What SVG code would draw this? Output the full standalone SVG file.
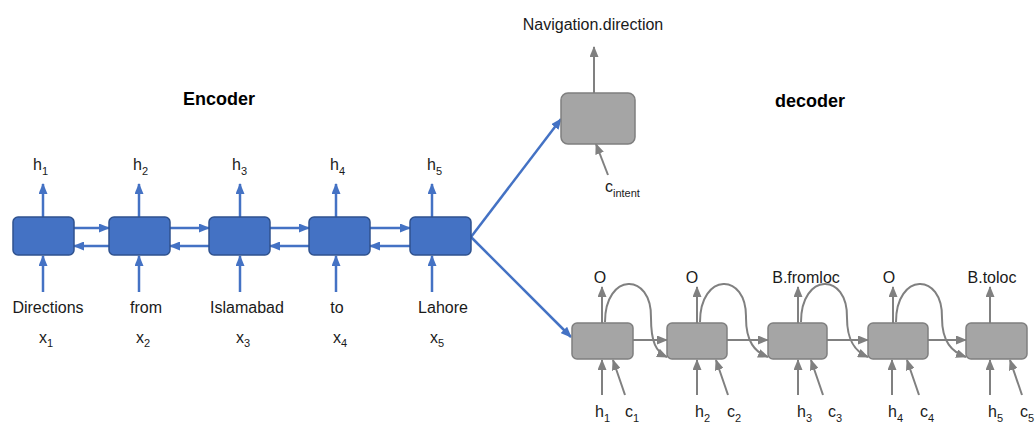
<svg xmlns="http://www.w3.org/2000/svg" width="1035" height="423" viewBox="0 0 1035 423">
<style>
text{font-family:"Liberation Sans",Arial,sans-serif;font-size:16px;fill:#1a1a1a}
.t{font-weight:bold;font-size:18px;fill:#000}
.s{font-size:11px}
.enc{fill:#4472C4;stroke:#2F528F;stroke-width:1.5}
.dec{fill:#A5A5A5;stroke:#7F7F7F;stroke-width:1.5}
.b{stroke:#4472C4;stroke-width:2.5;fill:none;marker-end:url(#ab)}
.g{stroke:#808080;stroke-width:2;fill:none;marker-end:url(#ag)}
</style>
<defs>
<marker id="ab" markerUnits="userSpaceOnUse" markerWidth="11" markerHeight="9" refX="10" refY="4.5" orient="auto"><path d="M0,0 L11,4.5 L0,9 z" fill="#4472C4"/></marker>
<marker id="ag" markerUnits="userSpaceOnUse" markerWidth="11" markerHeight="9" refX="10" refY="4.5" orient="auto"><path d="M0,0 L11,4.5 L0,9 z" fill="#808080"/></marker>
</defs>
<rect width="1035" height="423" fill="#fff"/>
<text class="t" x="183" y="105">Encoder</text>
<text class="t" x="775" y="107">decoder</text>
<g id="connectors">
<!-- encoder up -->
<path class="b" d="M43,217 V184"/><path class="b" d="M139,217 V184"/><path class="b" d="M240,217 V184"/><path class="b" d="M336,217 V184"/><path class="b" d="M432,217 V184"/>
<!-- encoder in -->
<path class="b" d="M43,292 V256"/><path class="b" d="M139,292 V256"/><path class="b" d="M240,292 V256"/><path class="b" d="M336,292 V256"/><path class="b" d="M432,292 V256"/>
<!-- forward -->
<path class="b" d="M74,228 H109"/><path class="b" d="M170,228 H209"/><path class="b" d="M270,228 H309"/><path class="b" d="M370,228 H410"/>
<!-- backward -->
<path class="b" d="M109,246 H74"/><path class="b" d="M209,246 H170"/><path class="b" d="M309,246 H270"/><path class="b" d="M410,246 H370"/>
<!-- to decoder -->
<path class="b" d="M471,237 L561,119"/><path class="b" d="M471,237 L571,337"/>
<!-- intent -->
<path class="g" d="M594,93 V47"/><path class="g" d="M608,175 L596,144"/>
<!-- decoder up -->
<path class="g" d="M602,323 V287"/><path class="g" d="M697,323 V287"/><path class="g" d="M798,323 V287"/><path class="g" d="M893,323 V287"/><path class="g" d="M990,323 V287"/>
<!-- decoder in -->
<path class="g" d="M602,395 V360"/><path class="g" d="M697,395 V360"/><path class="g" d="M798,395 V360"/><path class="g" d="M892,395 V360"/><path class="g" d="M990,395 V360"/>
<path class="g" d="M625,395 L613,360"/><path class="g" d="M728,395 L716,360"/><path class="g" d="M823,395 L811,360"/><path class="g" d="M919,395 L907,360"/><path class="g" d="M1022,395 L1010,360"/>
<!-- decoder forward -->
<path class="g" d="M633,340 H667"/><path class="g" d="M727,340 H768"/><path class="g" d="M827,340 H868"/><path class="g" d="M928,340 H966"/>
<!-- curves -->
<path class="g" d="M605,322 C605,272 652,272 651,318 C651,342 656,352 667,357"/>
<path class="g" d="M700,322 C700,272 747,272 746,318 C746,342 755,352 768,357"/>
<path class="g" d="M801,322 C801,272 848,272 847,318 C847,342 856,352 868,357"/>
<path class="g" d="M896,322 C896,272 943,272 942,318 C942,342 952,352 966,357"/>
</g>
<g id="enc1"><rect class="enc" x="13" y="217" width="61" height="38" rx="5"/></g>
<g id="enc2"><rect class="enc" x="109" y="217" width="61" height="38" rx="5"/></g>
<g id="enc3"><rect class="enc" x="209" y="217" width="61" height="38" rx="5"/></g>
<g id="enc4"><rect class="enc" x="309" y="217" width="61" height="38" rx="5"/></g>
<g id="enc5"><rect class="enc" x="410" y="217" width="61" height="38" rx="5"/></g>
<g id="intent"><rect class="dec" x="561" y="93" width="74" height="51" rx="7"/></g>
<g id="dec1"><rect class="dec" x="572" y="323" width="61" height="36" rx="5"/></g>
<g id="dec2"><rect class="dec" x="667" y="323" width="60" height="36" rx="5"/></g>
<g id="dec3"><rect class="dec" x="768" y="323" width="59" height="36" rx="5"/></g>
<g id="dec4"><rect class="dec" x="868" y="323" width="60" height="36" rx="5"/></g>
<g id="dec5"><rect class="dec" x="966" y="323" width="61" height="36" rx="5"/></g>
<g id="labels">
<text x="33" y="170">h<tspan class="s" dy="5">1</tspan></text>
<text x="133" y="170">h<tspan class="s" dy="5">2</tspan></text>
<text x="232" y="170">h<tspan class="s" dy="5">3</tspan></text>
<text x="330" y="170">h<tspan class="s" dy="5">4</tspan></text>
<text x="427" y="170">h<tspan class="s" dy="5">5</tspan></text>
<text x="48" y="313" text-anchor="middle">Directions</text>
<text x="146" y="313" text-anchor="middle">from</text>
<text x="247" y="313" text-anchor="middle">Islamabad</text>
<text x="337" y="313" text-anchor="middle">to</text>
<text x="443" y="313" text-anchor="middle">Lahore</text>
<text x="39" y="343">x<tspan class="s" dy="4">1</tspan></text>
<text x="136" y="343">x<tspan class="s" dy="4">2</tspan></text>
<text x="236" y="343">x<tspan class="s" dy="4">3</tspan></text>
<text x="333" y="343">x<tspan class="s" dy="4">4</tspan></text>
<text x="430" y="343">x<tspan class="s" dy="4">5</tspan></text>
<text x="593" y="30" text-anchor="middle">Navigation.direction</text>
<text x="605" y="192">c<tspan class="s" dy="5">intent</tspan></text>
<text x="600" y="283" text-anchor="middle">O</text>
<text x="692" y="283" text-anchor="middle">O</text>
<text x="806" y="283" text-anchor="middle">B.fromloc</text>
<text x="889" y="283" text-anchor="middle">O</text>
<text x="992" y="283" text-anchor="middle">B.toloc</text>
<text x="595" y="417">h<tspan class="s" dy="5">1</tspan></text>
<text x="625" y="417">c<tspan class="s" dy="5">1</tspan></text>
<text x="695" y="417">h<tspan class="s" dy="5">2</tspan></text>
<text x="727" y="417">c<tspan class="s" dy="5">2</tspan></text>
<text x="797" y="417">h<tspan class="s" dy="5">3</tspan></text>
<text x="828" y="417">c<tspan class="s" dy="5">3</tspan></text>
<text x="888" y="417">h<tspan class="s" dy="5">4</tspan></text>
<text x="920" y="417">c<tspan class="s" dy="5">4</tspan></text>
<text x="988" y="417">h<tspan class="s" dy="5">5</tspan></text>
<text x="1020" y="417">c<tspan class="s" dy="5">5</tspan></text>
</g>
</svg>
